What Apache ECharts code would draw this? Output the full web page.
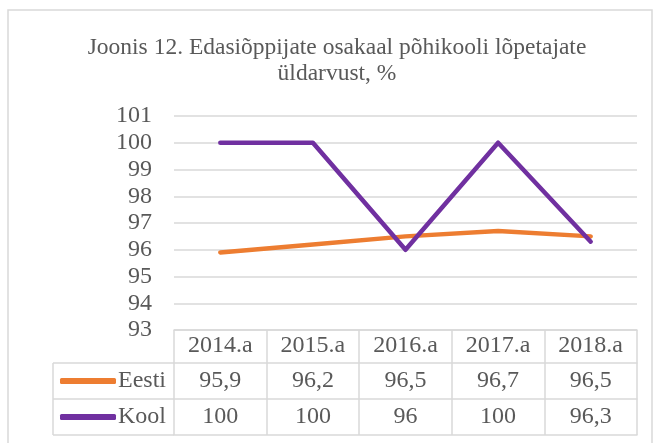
<!DOCTYPE html>
<html>
<head>
<meta charset="utf-8">
<script src="https://cdn.jsdelivr.net/npm/echarts@6/dist/echarts.min.js"></script>
<style>
  html, body { margin: 0; padding: 0; background: #fff; }
  #chart { width: 662px; height: 443px; }
</style>
</head>
<body>
<div id="chart"></div>
<script>
const years = ['2014.a', '2015.a', '2016.a', '2017.a', '2018.a']
const seriesNames = ['Eesti', 'Kool']
const eesti = [95.9, 96.2, 96.5, 96.7, 96.5]
const kool = [100, 100, 96, 100, 96.3]
const colors = ['#ED7D31', '#7030A0']

const fmt = v => String(v).replace('.', ',')
const font = 'Liberation Serif'
const textColor = '#595959'
const borderColor = '#D9D9D9'

const chart = echarts.init(document.getElementById('chart'))

// one axis per table row: axis line = top border, ticks = cell borders
const tableAxis = (data, offset, tickLen, labelMargin) => ({
  type: 'category',
  data: data,
  position: 'bottom',
  offset: offset,
  boundaryGap: true,
  axisLine: { show: true, lineStyle: { color: borderColor, width: 1.5 } },
  axisTick: { show: tickLen > 0, length: tickLen, lineStyle: { color: borderColor, width: 1.5 } },
  axisLabel: {
    show: labelMargin > 0,
    margin: labelMargin,
    fontFamily: font,
    fontSize: 24,
    color: textColor,
    verticalAlign: 'middle'
  },
  splitLine: { show: false }
})

const option = {
  animation: false,
  backgroundColor: '#fff',
  title: {
    text: 'Joonis 12. Edasiõppijate osakaal põhikooli lõpetajate\nüldarvust, %',
    left: 332,
    textAlign: 'center',
    top: 30,
    textStyle: {
      fontFamily: font,
      fontSize: 23.5,
      fontWeight: 'normal',
      color: textColor,
      lineHeight: 26
    }
  },
  legend: {
    orient: 'vertical',
    left: 60,
    top: 369,
    padding: 0,
    itemWidth: 56,
    itemHeight: 6,
    itemGap: 12,
    icon: 'roundRect',
    data: seriesNames,
    textStyle: { fontFamily: font, fontSize: 24, color: textColor, lineHeight: 24, padding: [0, 0, 0, -3] }
  },
  grid: { left: 174, right: 25, top: 116, bottom: 113 },
  xAxis: [
    tableAxis(years, 0, 33, 16),
    tableAxis(eesti.map(fmt), 33, 36, 18),
    tableAxis(kool.map(fmt), 69, 36, 18),
    tableAxis(years.map(() => ''), 105, 0, 0)
  ],
  yAxis: {
    type: 'value',
    min: 93,
    max: 101,
    interval: 1,
    axisLine: { show: false },
    axisTick: { show: false },
    axisLabel: { margin: 22, fontFamily: font, fontSize: 24, color: textColor },
    splitLine: { lineStyle: { color: borderColor, width: 1.5 } }
  },
  series: [
    {
      name: seriesNames[0],
      type: 'line',
      xAxisIndex: 0,
      data: eesti,
      showSymbol: false,
      lineStyle: { color: colors[0], width: 4.5, cap: 'round', join: 'round' },
      itemStyle: { color: colors[0] }
    },
    {
      name: seriesNames[1],
      type: 'line',
      xAxisIndex: 0,
      data: kool,
      showSymbol: false,
      lineStyle: { color: colors[1], width: 4.5, cap: 'round', join: 'round' },
      itemStyle: { color: colors[1] }
    }
  ],
  graphic: [
    // outer chart frame
    { type: 'rect', shape: { x: 8, y: 10, width: 644, height: 445 }, style: { fill: 'none', stroke: borderColor, lineWidth: 1.5 }, silent: true },
    // legend column of the data table
    { type: 'line', shape: { x1: 53, y1: 363, x2: 174, y2: 363 }, style: { stroke: borderColor, lineWidth: 1.5 } },
    { type: 'line', shape: { x1: 53, y1: 399, x2: 174, y2: 399 }, style: { stroke: borderColor, lineWidth: 1.5 } },
    { type: 'line', shape: { x1: 53, y1: 435, x2: 174, y2: 435 }, style: { stroke: borderColor, lineWidth: 1.5 } },
    { type: 'line', shape: { x1: 53, y1: 363, x2: 53, y2: 435 }, style: { stroke: borderColor, lineWidth: 1.5 } }
  ]
}

chart.setOption(option)
</script>
</body>
</html>
